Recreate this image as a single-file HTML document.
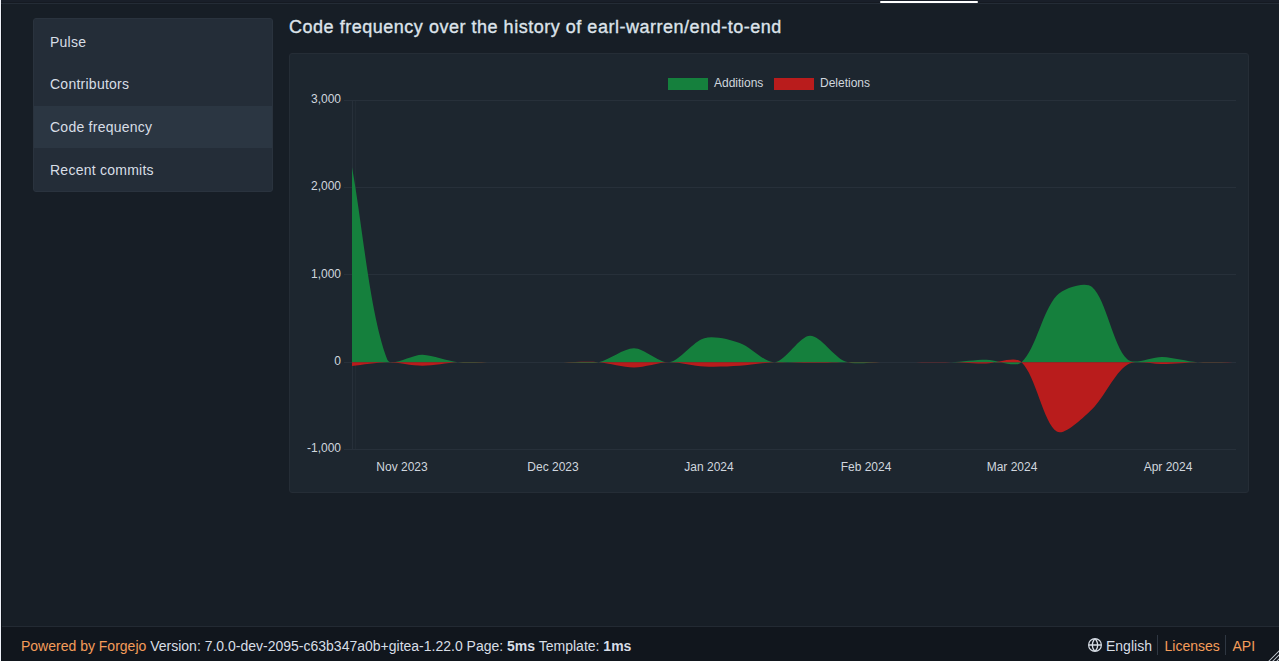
<!DOCTYPE html>
<html><head><meta charset="utf-8"><title>Code frequency</title>
<style>
*{box-sizing:border-box;margin:0;padding:0}
html,body{width:1279px;height:661px;overflow:hidden}
body{background:#171e26;font-family:"Liberation Sans",sans-serif;color:#d8dee6;position:relative}
#edge{position:absolute;left:0;top:0;width:1px;height:661px;background:#eef1f8}
#edge2{position:absolute;left:1px;top:0;width:1px;height:661px;background:#0e131a}
#topbar{position:absolute;left:1px;top:0;width:1278px;height:3px;background:#191f29;border-bottom:1px solid #151a22}
#topline{position:absolute;left:1px;top:3px;width:1278px;height:1px;background:#242c36}
#tab{position:absolute;left:880px;top:1px;width:98px;height:2px;background:#fff;border-radius:1px}
#menu{position:absolute;left:33px;top:18px;width:240px;height:174px;background:#242d38;border:1px solid #2a333e;border-radius:3px;overflow:hidden}
#menu .it{position:absolute;left:0;width:238px;height:42.75px;font-size:14px;line-height:42.75px;padding-top:1.5px;padding-left:16px;color:#d8dee6;letter-spacing:0.25px}
#menu .actbg{position:absolute;left:0;top:87px;width:238px;height:42px;background:#2b3642}
h2{position:absolute;left:289px;top:15.2px;letter-spacing:0.52px;font-size:18px;font-weight:normal;-webkit-text-stroke:0.35px #dde3ea;color:#dde3ea;white-space:nowrap;line-height:24px}
#seg{position:absolute;left:289px;top:53px;width:960px;height:440px;background:#1d262f;border:1px solid #252d36;border-radius:3px}
#chart{position:absolute;left:0;top:0}
#footer{position:absolute;left:2px;top:626px;width:1277px;height:35px;background:#11161d;border-top:1px solid #232a33;font-size:14px}
#footer .l{position:absolute;left:19px;top:10.5px;white-space:nowrap;color:#d8dee6}
#footer a{color:#f59d5a;text-decoration:none}
#footer .r span,#footer .r a,#footer .r svg{position:absolute;white-space:nowrap}
#footer .gl{left:1086px;top:11px}
#footer .en{left:1104px;top:10.5px;color:#d8dee6}
#footer .lic{left:1162.5px;top:10.5px}
#footer .api{left:1230.5px;top:10.5px}
#footer .sep{width:1px;height:20px;top:8px;background:#2f3742}
#footer .s1{left:1155px}#footer .s2{left:1222.7px}
</style></head>
<body>
<div id="edge"></div><div id="edge2"></div>
<div id="topbar"></div><div id="topline"></div><div id="tab"></div>
<div id="menu">
<div class="it" style="top:0">Pulse</div>
<div class="it" style="top:42.75px">Contributors</div>
<div class="actbg"></div><div class="it" style="top:85.5px">Code frequency</div>
<div class="it" style="top:128.25px">Recent commits</div>
</div>
<h2>Code frequency over the history of earl-warren/end-to-end</h2>
<div id="seg"></div>
<svg id="chart" width="1279" height="661" viewBox="0 0 1279 661">
<defs><clipPath id="ca"><rect x="352" y="100" width="881" height="350"/></clipPath></defs>
<line x1="344" x2="1236" y1="100.50" y2="100.50" stroke="#27303a" stroke-width="1"/>
<line x1="344" x2="1236" y1="187.50" y2="187.50" stroke="#27303a" stroke-width="1"/>
<line x1="344" x2="1236" y1="274.50" y2="274.50" stroke="#27303a" stroke-width="1"/>
<line x1="344" x2="1236" y1="362.50" y2="362.50" stroke="#27303a" stroke-width="1"/>
<line x1="344" x2="1236" y1="449.50" y2="449.50" stroke="#27303a" stroke-width="1"/>
<line x1="352.5" x2="352.5" y1="100" y2="450" stroke="#27303a" stroke-width="1"/>
<line x1="355.5" x2="355.5" y1="100" y2="450" stroke="#27303a" stroke-width="1" opacity="0.5"/>
<g clip-path="url(#ca)"><path d="M352.00 362.15 L352.00 167.15 C362.57 224.86 369.35 311.91 387.24 359.53 C390.49 368.19 411.97 354.34 422.48 354.73 C433.12 355.13 447.03 361.03 457.72 362.15 C468.18 363.25 482.39 362.15 492.96 362.15 C503.53 362.15 517.63 362.15 528.20 362.15 C538.77 362.15 552.87 362.15 563.44 362.15 C574.01 362.15 588.49 364.17 598.68 362.15 C609.64 359.98 623.35 348.19 633.92 348.19 C644.49 348.19 659.21 363.57 669.16 362.15 C680.35 360.56 692.87 341.30 704.40 338.16 C714.02 335.54 729.71 339.57 739.64 342.95 C750.85 346.77 764.80 363.19 774.88 362.15 C785.94 361.01 799.50 335.82 810.12 335.71 C820.64 335.61 833.66 357.06 845.36 361.45 C854.81 365.00 870.03 362.05 880.60 362.15 C891.17 362.25 905.27 362.15 915.84 362.15 C926.41 362.15 940.52 362.52 951.08 362.15 C961.66 361.78 975.75 359.71 986.32 359.71 C996.89 359.71 1014.82 368.30 1021.56 362.15 C1035.96 349.01 1042.52 310.65 1056.80 295.40 C1063.66 288.08 1085.48 280.99 1092.04 286.94 C1106.62 300.17 1112.58 344.77 1127.28 359.36 C1133.73 365.76 1151.99 356.50 1162.52 356.91 C1173.14 357.34 1187.13 361.36 1197.76 362.15 C1208.27 362.93 1222.43 362.15 1233.00 362.15 L1233.00 362.15 Z" fill="#15803d"/><path d="M352.00 362.15 L352.00 365.90 C362.57 364.78 376.66 362.19 387.24 362.15 C397.81 362.11 411.91 365.64 422.48 365.64 C433.05 365.64 447.12 362.67 457.72 362.15 C468.27 361.63 482.39 362.15 492.96 362.15 C503.53 362.15 517.63 362.15 528.20 362.15 C538.77 362.15 552.87 362.15 563.44 362.15 C574.01 362.15 588.17 361.37 598.68 362.15 C609.31 362.94 623.35 367.38 633.92 367.38 C644.49 367.38 658.57 362.28 669.16 362.15 C679.71 362.02 693.79 365.96 704.40 366.51 C714.93 367.06 729.10 366.47 739.64 365.81 C750.24 365.16 764.28 362.60 774.88 362.15 C785.42 361.71 799.55 362.85 810.12 362.85 C820.69 362.85 834.79 362.25 845.36 362.15 C855.93 362.05 870.03 362.15 880.60 362.15 C891.17 362.15 905.27 362.15 915.84 362.15 C926.41 362.15 940.51 361.95 951.08 362.15 C961.66 362.35 975.75 363.46 986.32 363.46 C996.89 363.46 1014.97 355.78 1021.56 362.15 C1036.11 376.20 1043.03 422.31 1056.80 431.51 C1064.18 436.44 1083.09 417.74 1092.04 409.26 C1104.23 397.72 1114.24 373.13 1127.28 364.77 C1135.38 359.57 1151.95 364.46 1162.52 364.07 C1173.10 363.68 1187.18 362.44 1197.76 362.15 C1208.32 361.86 1222.43 362.15 1233.00 362.15 L1233.00 362.15 Z" fill="#b91c1c"/></g>
<text x="341" y="103.10" text-anchor="end" font-size="12" fill="#d0d6de">3,000</text>
<text x="341" y="190.35" text-anchor="end" font-size="12" fill="#d0d6de">2,000</text>
<text x="341" y="277.60" text-anchor="end" font-size="12" fill="#d0d6de">1,000</text>
<text x="341" y="364.85" text-anchor="end" font-size="12" fill="#d0d6de">0</text>
<text x="341" y="452.10" text-anchor="end" font-size="12" fill="#d0d6de">-1,000</text>
<text x="402" y="471" text-anchor="middle" font-size="12" fill="#d0d6de">Nov 2023</text>
<text x="553" y="471" text-anchor="middle" font-size="12" fill="#d0d6de">Dec 2023</text>
<text x="709" y="471" text-anchor="middle" font-size="12" fill="#d0d6de">Jan 2024</text>
<text x="866" y="471" text-anchor="middle" font-size="12" fill="#d0d6de">Feb 2024</text>
<text x="1012" y="471" text-anchor="middle" font-size="12" fill="#d0d6de">Mar 2024</text>
<text x="1168" y="471" text-anchor="middle" font-size="12" fill="#d0d6de">Apr 2024</text>
<rect x="668" y="78" width="40" height="12" fill="#15803d"/>
<text x="714" y="86.8" font-size="12" fill="#d0d6de">Additions</text>
<rect x="774" y="78" width="40" height="12" fill="#b91c1c"/>
<text x="820" y="86.8" font-size="12" fill="#d0d6de">Deletions</text>
</svg>
<div id="footer">
<div class="l"><a>Powered by Forgejo</a> Version: 7.0.0-dev-2095-c63b347a0b+gitea-1.22.0 Page: <b>5ms</b> Template: <b>1ms</b></div>
<div class="r"><svg class="gl" width="14" height="14" viewBox="0 0 16 16"><path fill="#d8dee6" d="M8 0a8 8 0 1 1 0 16A8 8 0 0 1 8 0ZM5.78 8.75a9.64 9.64 0 0 0 1.363 4.177c.255.426.542.832.857 1.215.245-.296.551-.705.857-1.215A9.64 9.64 0 0 0 10.22 8.75Zm4.44-1.5a9.64 9.64 0 0 0-1.363-4.177c-.307-.51-.612-.919-.857-1.215a9.927 9.927 0 0 0-.857 1.215A9.64 9.64 0 0 0 5.78 7.25Zm-5.944 1.5H1.543a6.507 6.507 0 0 0 4.666 5.5c-.123-.181-.24-.365-.352-.552-.715-1.192-1.437-2.874-1.581-4.948Zm-2.733-1.5h2.733c.144-2.074.866-3.756 1.58-4.948.12-.197.237-.381.353-.552a6.507 6.507 0 0 0-4.666 5.5Zm10.181 1.5c-.144 2.074-.866 3.756-1.58 4.948-.12.197-.237.381-.353.552a6.507 6.507 0 0 0 4.666-5.5Zm2.733-1.5a6.507 6.507 0 0 0-4.666-5.5c.123.181.24.365.353.552.714 1.192 1.436 2.874 1.58 4.948Z"/></svg><span class="en">English</span><span class="sep s1"></span><a class="lic">Licenses</a><span class="sep s2"></span><a class="api">API</a></div>
</div>
<svg id="grip" width="14" height="14" viewBox="0 0 14 14" style="position:absolute;left:1265px;top:647px">
<g stroke="#080b10" stroke-width="2.6" stroke-linecap="butt"><line x1="3.5" y1="14.5" x2="14.5" y2="3.5"/><line x1="7.5" y1="14.5" x2="14.5" y2="7.5"/><line x1="11.5" y1="14.5" x2="14.5" y2="11.5"/></g>
<g stroke="#bcc3cd" stroke-width="1.1"><line x1="3.5" y1="14.5" x2="14.5" y2="3.5"/><line x1="7.5" y1="14.5" x2="14.5" y2="7.5"/><line x1="11.5" y1="14.5" x2="14.5" y2="11.5"/></g>
</svg>
</body></html>
